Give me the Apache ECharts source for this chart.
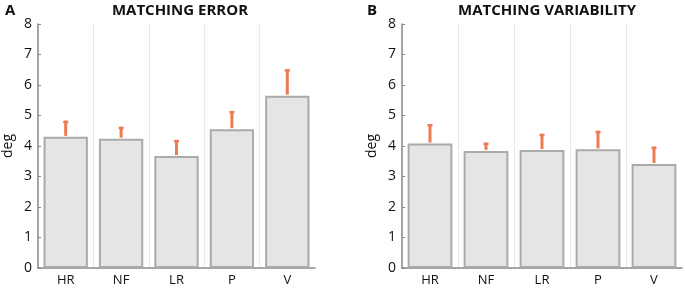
<!DOCTYPE html>
<html>
<head>
<meta charset="utf-8">
<script src="https://cdn.jsdelivr.net/npm/echarts@6/dist/echarts.min.js"></script>
<style>
html,body{margin:0;padding:0;background:#fff;}
#main{width:685px;height:289px;}
</style>
</head>
<body>
<div id="main"></div>
<script>
var categories = ['HR', 'NF', 'LR', 'P', 'V'];
var errorMeans = [4.30, 4.24, 3.67, 4.55, 5.65];
var errorUpper = [4.83, 4.63, 4.20, 5.15, 6.52];
var variabilityMeans = [4.08, 3.84, 3.87, 3.89, 3.41];
var variabilityUpper = [4.72, 4.11, 4.40, 4.50, 3.98];
var yTicks = [0, 1, 2, 3, 4, 5, 6, 7, 8];

var font = 'Open Sans';
var myChart = echarts.init(document.getElementById('main'));

function errItem(params, api) {
    var lo = api.coord([api.value(0), api.value(1)]);
    var hi = api.coord([api.value(0), api.value(2)]);
    var c = '#ee7a52';
    return {
        type: 'group',
        children: [{
            type: 'rect',
            shape: { x: lo[0] - 1.5, y: hi[1], width: 3, height: lo[1] - hi[1] - 1 },
            style: { fill: c }
        }, {
            type: 'rect',
            shape: { x: lo[0] - 2.5, y: hi[1], width: 5, height: 2.5 },
            style: { fill: c }
        }]
    };
}

function pairs(means, upper) {
    var out = [];
    for (var i = 0; i < means.length; i++) {
        out.push([i, means[i], upper[i]]);
    }
    return out;
}

function xAx(idx) {
    return {
        type: 'category', gridIndex: idx, data: categories,
        axisLine: { lineStyle: { color: '#888', width: 1.5 } },
        axisTick: { show: false },
        axisLabel: { color: '#111', fontSize: 13, fontFamily: font, margin: 6 },
        splitLine: { show: true, showMinLine: false, showMaxLine: false,
            lineStyle: { color: '#e9e9e9', width: 1 } }
    };
}
function yAx(idx) {
    return {
        type: 'value', gridIndex: idx, min: 0, max: 8, interval: 1,
        name: 'deg', nameLocation: 'middle', nameGap: 23,
        nameTextStyle: { color: '#111', fontSize: 14, fontFamily: font },
        axisLine: { show: true, lineStyle: { color: '#888', width: 1.5 } },
        axisTick: { show: true, inside: true, length: 3, lineStyle: { color: '#888' } },
        axisLabel: { color: '#111', fontSize: 14, fontFamily: font, margin: 6,
            formatter: function (v) { return yTicks.indexOf(v) >= 0 ? String(v) : ''; } },
        splitLine: { show: false }
    };
}

var barStyle = { color: '#e5e5e5', borderColor: '#aaaaaa', borderWidth: 2 };
var titleStyle = { fontSize: 15, fontWeight: 'bold', fontFamily: font, color: '#111' };

var option = {
    animation: false,
    title: [
        { text: 'MATCHING ERROR', left: 175, textAlign: 'center', top: -2, textStyle: titleStyle },
        { text: 'MATCHING VARIABILITY', left: 542, textAlign: 'center', top: -2, textStyle: titleStyle },
        { text: 'A', left: 0, top: -2, textStyle: titleStyle },
        { text: 'B', left: 362, top: -2, textStyle: titleStyle }
    ],
    grid: [
        { left: 35, right: 370, top: 24, bottom: 21 },
        { left: 402, right: 3, top: 24, bottom: 21 }
    ],
    xAxis: [xAx(0), xAx(1)],
    yAxis: [yAx(0), yAx(1)],
    series: [
        { type: 'bar', xAxisIndex: 0, yAxisIndex: 0, data: errorMeans, barWidth: '80%', itemStyle: barStyle, z: 2 },
        { type: 'custom', xAxisIndex: 0, yAxisIndex: 0, renderItem: errItem, data: pairs(errorMeans, errorUpper), z: 3 },
        { type: 'bar', xAxisIndex: 1, yAxisIndex: 1, data: variabilityMeans, barWidth: '80%', itemStyle: barStyle, z: 2 },
        { type: 'custom', xAxisIndex: 1, yAxisIndex: 1, renderItem: errItem, data: pairs(variabilityMeans, variabilityUpper), z: 3 }
    ]
};
myChart.setOption(option);
</script>
</body>
</html>
